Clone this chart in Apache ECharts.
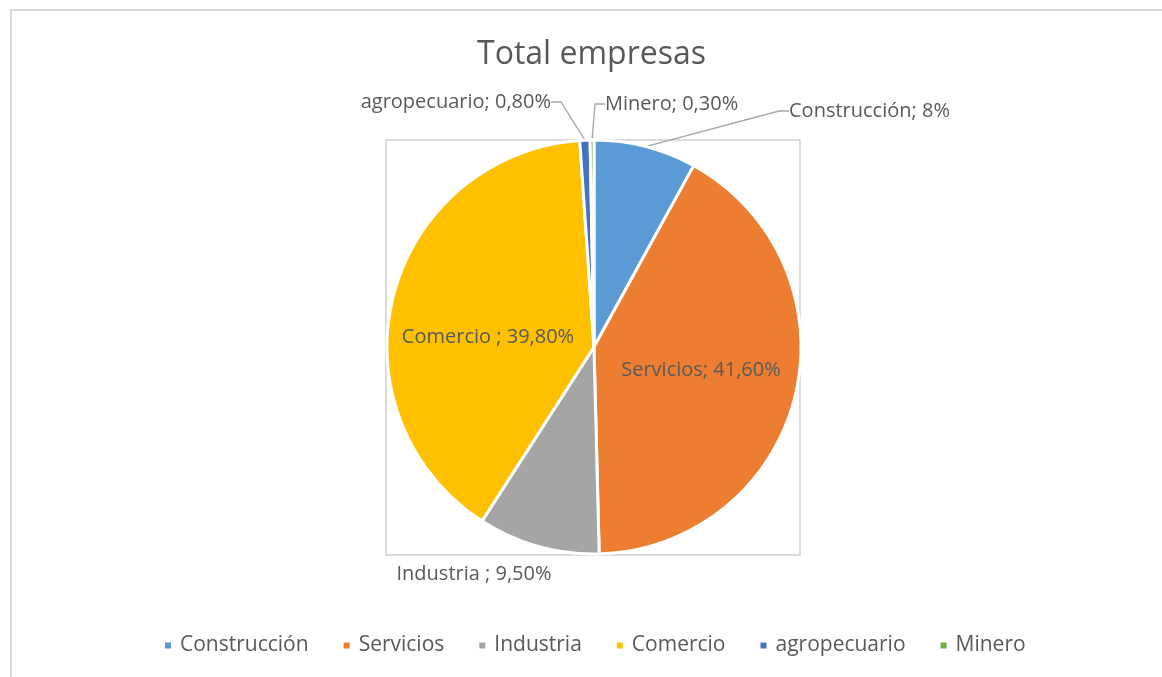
<!DOCTYPE html>
<html>
<head>
<meta charset="utf-8">
<script src="https://cdn.jsdelivr.net/npm/echarts@6/dist/echarts.min.js"></script>
<style>
  html, body { margin: 0; padding: 0; background: #fff; }
  #main { width: 1162px; height: 677px; }
</style>
</head>
<body>
<div id="main"></div>
<script>
// datos
var sectores = ['Construcción', 'Servicios', 'Industria', 'Comercio', 'agropecuario', 'Minero'];
var porcentajes = [8, 41.6, 9.5, 39.8, 0.8, 0.3];
var etiquetas = ['Construcción; 8%', 'Servicios; 41,60%', 'Industria ; 9,50%', 'Comercio ; 39,80%', 'agropecuario; 0,80%', 'Minero; 0,30%'];
var colores = ['#5B9BD5', '#ED7D31', '#A5A5A5', '#FFC000', '#4472C4', '#70AD47'];

// donde va cada etiqueta (a mano, como en el excel)
var posEtiquetas = [
  { x: 789, y: 111, align: 'left' },
  { x: 701, y: 370, align: 'center' },
  { x: 474, y: 574, align: 'center' },
  { x: 488, y: 337, align: 'center' },
  { x: 551, y: 102, align: 'right' },
  { x: 605, y: 104, align: 'left' }
];
var dentro = [false, true, false, true, false, false];

var fuente = 'Open Sans';
var gris = '#595959';

var myChart = echarts.init(document.getElementById('main'));

var datos = sectores.map(function (s, i) {
  var d = { name: s, value: porcentajes[i], itemStyle: { color: colores[i] } };
  if (dentro[i]) {
    d.label = { position: 'inside' };
    d.labelLine = { show: false };
  }
  if (i === 2) {
    d.labelLine = { show: false };
  }
  return d;
});

myChart.setOption({
  animation: false,
  title: {
    text: 'Total empresas',
    left: 472,
    top: 34,
    textStyle: { fontFamily: fuente, fontSize: 32, fontWeight: 'normal', color: gris }
  },
  legend: {
    data: sectores,
    bottom: 16,
    left: 158,
    icon: 'rect',
    itemWidth: 8,
    itemHeight: 8,
    itemGap: 33,
    textStyle: { fontFamily: fuente, fontSize: 21, color: gris, padding: [0, 0, 0, 3] }
  },
  graphic: [
    {
      type: 'rect', z: 0, silent: true,
      shape: { x: 11, y: 10, width: 1200, height: 700 },
      style: { fill: 'none', stroke: '#d9d9d9', lineWidth: 2 }
    },
    {
      type: 'rect', z: 0, silent: true,
      shape: { x: 386, y: 140, width: 414, height: 415 },
      style: { fill: 'none', stroke: '#cfcfcf', lineWidth: 1.5 }
    }
  ],
  series: [
    {
      type: 'pie',
      center: [594, 347],
      radius: 207,
      startAngle: 90,
      clockwise: true,
      avoidLabelOverlap: false,
      itemStyle: { borderColor: '#fff', borderWidth: 3 },
      label: {
        show: true,
        position: 'outside',
        fontFamily: fuente,
        fontSize: 20,
        color: gris,
        formatter: function (p) { return etiquetas[p.dataIndex]; }
      },
      labelLine: {
        show: true,
        length: 15,
        length2: 10,
        lineStyle: { color: '#a6a6a6', width: 1.3 }
      },
      labelLayout: function (p) {
        var e = posEtiquetas[p.dataIndex];
        return { x: e.x, y: e.y, align: e.align, verticalAlign: 'middle' };
      },
      emphasis: { disabled: true },
      data: datos
    }
  ]
});
</script>
</body>
</html>
